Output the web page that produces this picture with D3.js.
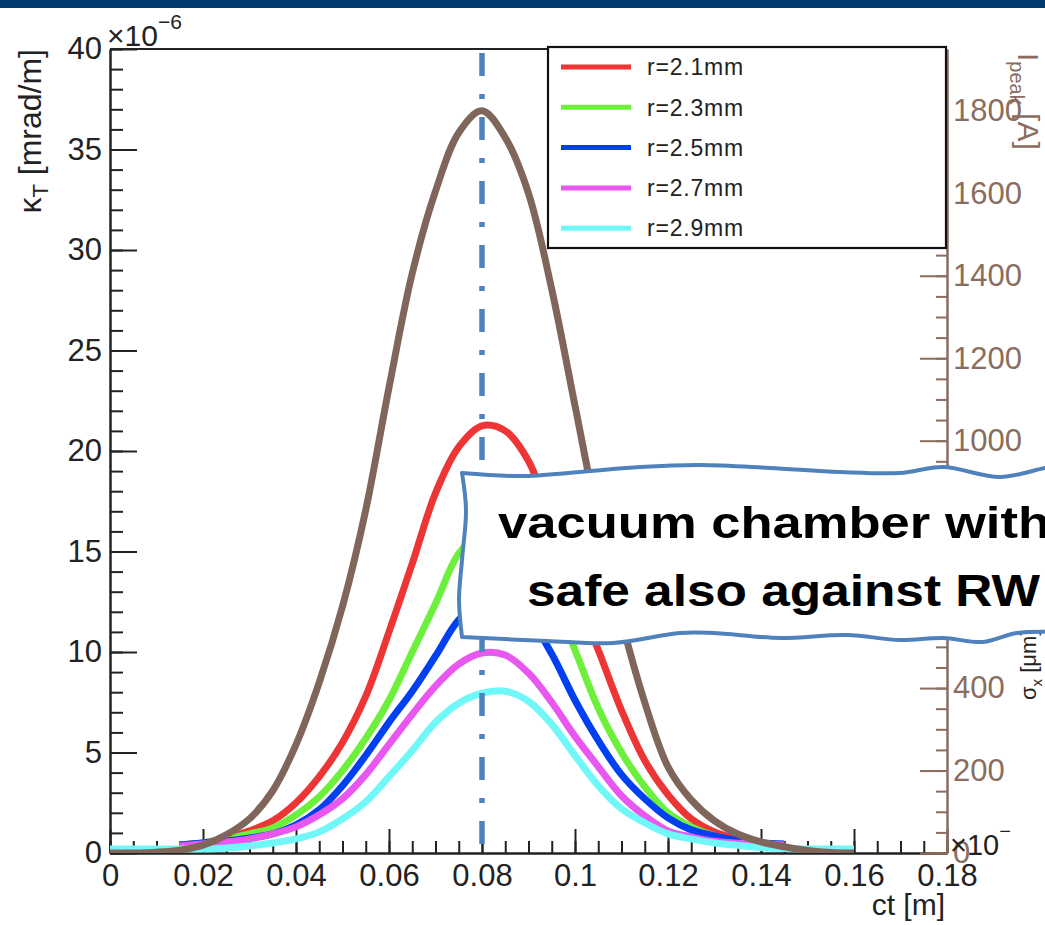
<!DOCTYPE html>
<html>
<head>
<meta charset="utf-8">
<script src="https://cdn.jsdelivr.net/npm/d3@7"></script>
<style>
  html, body { margin: 0; padding: 0; background: #fff; }
  svg { display: block; }
  text { font-family: "Liberation Sans", Arial, Helvetica, sans-serif; }
</style>
</head>
<body>
<svg id="chart" width="1045" height="925"></svg>
<script>
// ---- data -------------------------------------------------------------
const ct = [0, 0.005, 0.01, 0.015, 0.02, 0.025, 0.03, 0.035, 0.04, 0.045, 0.05,
            0.055, 0.06, 0.065, 0.07, 0.075, 0.08, 0.085, 0.09, 0.095, 0.10,
            0.105, 0.11, 0.115, 0.12, 0.125, 0.13, 0.135, 0.14, 0.145, 0.15,
            0.155, 0.16];

// transverse kick (1e-6 mrad/m) for each pipe radius
const kickR21 = [null, null, null, 0.4, 0.5, 0.75, 1.1, 1.6, 2.5, 3.8, 5.5, 7.8, 11.0, 14.4, 17.9, 20.2, 21.25, 21.0, 19.5, 16.4, 12.9, 10.1, 7.1, 4.6, 2.9, 1.7, 1.05, 0.7, 0.47, 0.4, null, null, null];
const kickR23 = [null, null, null, 0.4, 0.5, 0.7, 0.95, 1.25, 1.9, 2.8, 4.1, 5.7, 7.6, 10.0, 12.4, 14.9, 16.0, 16.0, 15.0, 12.9, 10.1, 7.2, 5.0, 3.3, 2.0, 1.3, 0.85, 0.6, 0.45, 0.4, null, null, null];
const kickR25 = [null, null, null, 0.4, 0.5, 0.6, 0.75, 0.95, 1.4, 2.15, 3.35, 4.85, 6.5, 8.05, 9.8, 11.6, 12.5, 12.4, 11.7, 9.9, 7.6, 5.6, 3.9, 2.7, 1.75, 1.15, 0.85, 0.62, 0.5, 0.45, null, null, null];
const kickR27 = [null, null, null, 0.35, 0.45, 0.55, 0.7, 0.95, 1.3, 1.9, 2.7, 3.9, 5.4, 6.9, 8.3, 9.4, 9.95, 9.85, 8.95, 7.5, 5.8, 4.3, 2.85, 1.85, 1.1, 0.8, 0.58, 0.48, 0.45, 0.4, null, null, null];
const kickR29 = [0.2, 0.2, 0.2, 0.2, 0.2, 0.25, 0.35, 0.5, 0.7, 1.05, 1.7, 2.55, 3.8, 5.1, 6.5, 7.45, 7.95, 8.05, 7.55, 6.4, 4.85, 3.35, 2.2, 1.5, 0.95, 0.7, 0.5, 0.38, 0.27, 0.23, 0.2, 0.2, 0.2];

// peak current along the bunch (A), right-hand axis
const peakCurrent = [0, 0, 2, 7, 19, 44, 83, 151, 263, 414, 598, 832, 1129, 1406, 1605, 1747, 1800, 1735, 1600, 1367, 1085, 803, 564, 365, 209, 129, 78, 46, 27, 15, 6, 1, 0];

const seriesNames  = ["r=2.1mm", "r=2.3mm", "r=2.5mm", "r=2.7mm", "r=2.9mm"];
const seriesColors = ["#ee3535", "#6cf03c", "#0040f0", "#e858f0", "#70f8f8"];
const seriesValues = [kickR21, kickR23, kickR25, kickR27, kickR29];

const xTicks      = [0, 0.02, 0.04, 0.06, 0.08, 0.1, 0.12, 0.14, 0.16, 0.18];
const xTickLabels = ["0", "0.02", "0.04", "0.06", "0.08", "0.1", "0.12", "0.14", "0.16", "0.18"];
const yTicks      = [0, 5, 10, 15, 20, 25, 30, 35, 40];
const rTicks      = [0, 200, 400, 600, 800, 1000, 1200, 1400, 1600, 1800];
const markerCt    = 0.08;

// ---- layout -----------------------------------------------------------
const brown = "#8a6d5e";
const svg = d3.select("#chart");
const pL = 110, pR = 947, pT = 49, pB = 853;

const x  = d3.scaleLinear([0, 0.18], [pL, pR]);
const yL = d3.scaleLinear([0, 40], [pB, pT]);
const yR = d3.scaleLinear([0, 1950], [pB, pT]);

// header band
svg.append("rect").attr("x", 0).attr("y", 0).attr("width", 1045).attr("height", 8).attr("fill", "#003a70");

svg.append("defs").append("clipPath").attr("id", "plotClip")
  .append("rect").attr("x", pL).attr("y", pT - 5).attr("width", pR - pL).attr("height", pB - pT + 5);

// frame top line
svg.append("line").attr("x1", pL).attr("x2", pR).attr("y1", pT).attr("y2", pT)
  .attr("stroke", "#222").attr("stroke-width", 2);

// ---- axes ---------------------------------------------------------------
function styleAxis(g, color, fontSize) {
  g.selectAll("path.domain").attr("stroke", color).attr("stroke-width", 2);
  g.selectAll(".tick line").attr("stroke", color).attr("stroke-width", 2);
  g.selectAll(".tick text").attr("fill", color).attr("font-size", fontSize)
    .attr("font-family", '"Liberation Sans", Arial, Helvetica, sans-serif');
}

// left axis
const yMinor = d3.range(0, 41, 1);
const gLm = svg.append("g").attr("transform", `translate(${pL},0)`)
  .call(d3.axisLeft(yL).tickValues(yMinor).tickSize(-13).tickSizeOuter(0).tickFormat(""));
styleAxis(gLm, "#222", 31);
const gL = svg.append("g").attr("transform", `translate(${pL},0)`)
  .call(d3.axisLeft(yL).tickValues(yTicks).tickSize(-27).tickSizeOuter(0).tickPadding(8).tickFormat(d3.format("d")));
styleAxis(gL, "#222", 31);

// bottom axis
const xMinor = d3.range(0, 0.1801, 0.005);
const gBm = svg.append("g").attr("transform", `translate(0,${pB})`)
  .call(d3.axisBottom(x).tickValues(xMinor).tickSize(-12).tickSizeOuter(0).tickFormat(""));
styleAxis(gBm, "#222", 31);
const gB = svg.append("g").attr("transform", `translate(0,${pB})`)
  .call(d3.axisBottom(x).tickValues(xTicks).tickSize(-24).tickSizeOuter(0).tickPadding(11)
    .tickFormat((d, i) => xTickLabels[i]));
styleAxis(gB, "#222", 31);

// right axis (peak current)
const rMinor = d3.range(0, 1951, 50);
const gRm = svg.append("g").attr("transform", `translate(${pR},0)`)
  .call(d3.axisRight(yR).tickValues(rMinor).tickSize(-11).tickSizeOuter(0).tickFormat(""));
styleAxis(gRm, brown, 31);
const gR = svg.append("g").attr("transform", `translate(${pR},0)`)
  .call(d3.axisRight(yR).tickValues(rTicks).tickSize(-27).tickSizeOuter(0).tickPadding(6).tickFormat(d3.format("d")));
styleAxis(gR, brown, 31);

// ---- curves -------------------------------------------------------------
const plot = svg.append("g").attr("clip-path", "url(#plotClip)");
seriesValues.forEach((vals, si) => {
  const pts = ct.map((c, i) => ({ c, v: vals[i] }));
  const line = d3.line().defined(d => d.v !== null)
    .x(d => x(d.c)).y(d => yL(d.v)).curve(d3.curveCatmullRom.alpha(0.5));
  plot.append("path").datum(pts).attr("d", line)
    .attr("fill", "none").attr("stroke", seriesColors[si]).attr("stroke-width", 7)
    .attr("stroke-linejoin", "round");
});
const currentLine = d3.line().x(d => x(d.c)).y(d => yR(d.v)).curve(d3.curveCatmullRom.alpha(0.5));
plot.append("path").datum(ct.map((c, i) => ({ c, v: peakCurrent[i] })))
  .attr("d", currentLine).attr("fill", "none").attr("stroke", "#80665a").attr("stroke-width", 7)
  .attr("stroke-linejoin", "round");

// dash-dot marker at the current peak
svg.append("line")
  .attr("x1", x(markerCt)).attr("x2", x(markerCt)).attr("y1", pT).attr("y2", pB)
  .attr("stroke", "#4f81bd").attr("stroke-width", 5.5)
  .attr("stroke-dasharray", "23,18,5,18").attr("stroke-dashoffset", 60);

// ---- legend ---------------------------------------------------------------
const lg = svg.append("g");
lg.append("rect").attr("x", 548).attr("y", 47).attr("width", 398).attr("height", 201)
  .attr("fill", "#fff").attr("stroke", "#111").attr("stroke-width", 2.2);
seriesNames.forEach((name, i) => {
  const yy = 67 + i * 40.3;
  lg.append("line").attr("x1", 561).attr("x2", 631).attr("y1", yy).attr("y2", yy)
    .attr("stroke", seriesColors[i]).attr("stroke-width", 5);
  lg.append("text").attr("x", 647).attr("y", yy).attr("dy", "0.36em")
    .attr("font-size", 23).attr("fill", "#222").attr("letter-spacing", 0.8).text(name);
});

// ---- titles ---------------------------------------------------------------
// y title
svg.append("text")
  .attr("transform", `translate(41,${pT}) rotate(-90)`)
  .attr("text-anchor", "end").attr("font-size", 32).attr("fill", "#222")
  .call(t => {
    t.append("tspan").text("κ");
    t.append("tspan").attr("font-size", 22).attr("dy", 7).text("T");
    t.append("tspan").attr("dy", -7).text(" [mrad/m]");
  });

// exponent of the left axis
svg.append("text").attr("x", 107).attr("y", 46).attr("font-size", 30).attr("fill", "#222")
  .call(t => {
    t.append("tspan").text("×10");
    t.append("tspan").attr("font-size", 21).attr("dy", -17).text("−6");
  });

// x title
svg.append("text").attr("x", 945).attr("y", 915).attr("text-anchor", "end")
  .attr("font-size", 30).attr("fill", "#222").text("ct [m]");

// right axis title
svg.append("text")
  .attr("transform", `translate(1018,53) rotate(90)`)
  .attr("font-size", 30).attr("fill", brown)
  .call(t => {
    t.append("tspan").text("I");
    t.append("tspan").attr("font-size", 20).attr("dy", 8).text("peak");
    t.append("tspan").attr("dy", -8).text(" [A]");
  });

// partly hidden third-axis labels on the right
svg.append("text")
  .attr("transform", `translate(1036,700) rotate(-90)`)
  .attr("font-size", 22).attr("fill", "#222")
  .call(t => {
    t.append("tspan").text("σ");
    t.append("tspan").attr("font-size", 15).attr("dy", 6).text("x");
    t.append("tspan").attr("dy", -6).text(" [μm]");
  });
svg.append("text").attr("x", 950).attr("y", 855).attr("font-size", 29).attr("fill", "#222")
  .call(t => {
    t.append("tspan").text("×10");
    t.append("tspan").attr("font-size", 20).attr("dy", -17).text("−");
  });

// ---- callout ---------------------------------------------------------------
const boxTop = [[462, 473], [520, 476], [580, 472], [640, 467], [700, 465], [770, 468], [840, 472], [900, 473], [943, 467], [1000, 477], [1045, 468], [1060, 466]];
const boxBottom = [[1060, 632], [1017, 633], [983, 642], [943, 638], [900, 640], [847, 635], [780, 638], [713, 633], [680, 633], [613, 643], [547, 641], [462, 637]];
const boxLeft = [[462, 637], [459, 600], [462, 560], [466, 510], [462, 473]];
const smooth = d3.line().curve(d3.curveCatmullRom.alpha(0.5));
const boxPath = smooth(boxTop) + "L" + smooth(boxBottom).slice(1) + "L" + smooth(boxLeft).slice(1) + "Z";
svg.append("path").attr("d", boxPath).attr("fill", "#fff")
  .attr("stroke", "#4f81bd").attr("stroke-width", 4).attr("stroke-linejoin", "round");

svg.append("text").attr("x", 498).attr("y", 538)
  .attr("font-family", 'Lato, "Open Sans", sans-serif').attr("font-weight", 700)
  .attr("font-size", 44).attr("fill", "#000")
  .attr("textLength", 552).attr("lengthAdjust", "spacingAndGlyphs")
  .text("vacuum chamber with");
svg.append("text").attr("x", 527).attr("y", 606)
  .attr("font-family", 'Lato, "Open Sans", sans-serif').attr("font-weight", 700)
  .attr("font-size", 44).attr("fill", "#000")
  .attr("textLength", 513).attr("lengthAdjust", "spacingAndGlyphs")
  .text("safe also against RW");
</script>
</body>
</html>
